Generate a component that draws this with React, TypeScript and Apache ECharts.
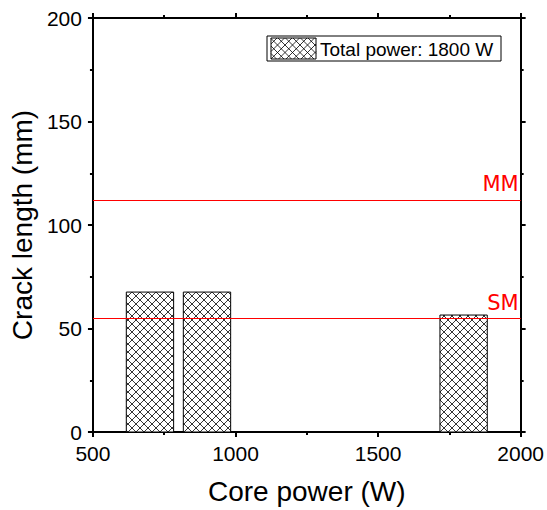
import React, { useEffect, useRef } from "react";
import * as echarts from "echarts";

const corePower = [700, 900, 1800];
const crackLength = [67.6, 67.6, 56.5];
const barWidthW = 166;
const refLines = [
  { name: "MM", value: 112.1 },
  { name: "SM", value: 54.9 },
];
const legendLabel = "Total power: 1800 W";
const xTicks = { min: 500, max: 2000, interval: 500 };
const yTicks = { min: 0, max: 200, interval: 50 };

const FONT = "'Liberation Sans', Arial, sans-serif";

function hatchLines(x0: number, y0: number, x1: number, y1: number, s: number) {
  const segs: number[][] = [];
  for (let c = Math.ceil((y0 - x1) / s) * s; c <= y1 - x0; c += s) {
    const xa = Math.max(x0, y0 - c);
    const xb = Math.min(x1, y1 - c);
    if (xb > xa) segs.push([xa, xa + c, xb, xb + c]);
  }
  for (let c = Math.ceil((x0 + y0) / s) * s; c <= x1 + y1; c += s) {
    const xa = Math.max(x0, c - y1);
    const xb = Math.min(x1, c - y0);
    if (xb > xa) segs.push([xa, c - xa, xb, c - xb]);
  }
  return segs;
}

function hatchElements(x0: number, y0: number, x1: number, y1: number, s: number) {
  const els: any[] = [
    { type: "rect", shape: { x: x0, y: y0, width: x1 - x0, height: y1 - y0 }, style: { fill: "#fff", stroke: "none" } },
  ];
  hatchLines(x0, y0, x1, y1, s).forEach((g) => {
    els.push({
      type: "line",
      shape: { x1: g[0], y1: g[1], x2: g[2], y2: g[3] },
      style: { stroke: "#000", lineWidth: 0.8 },
    });
  });
  els.push({
    type: "rect",
    shape: { x: x0, y: y0, width: x1 - x0, height: y1 - y0 },
    style: { fill: "none", stroke: "#000", lineWidth: 1 },
  });
  return els;
}

export default function App() {
  const ref = useRef<HTMLDivElement>(null);
  useEffect(() => {
    if (!ref.current) return;
    const chart = echarts.init(ref.current, null, { renderer: "svg" });

    const axisCommon = {
      axisLine: { show: true, onZero: false, lineStyle: { color: "#000", width: 2 } },
      axisTick: { show: true, inside: false, length: 5, lineStyle: { color: "#000", width: 2 } },
      minorTick: { show: true, splitNumber: 2, length: 3, lineStyle: { color: "#000", width: 2 } },
      splitLine: { show: false },
      minorSplitLine: { show: false },
    };

    const legendBox = { x: 267, y: 36, w: 234, h: 25 };
    const sw = { x0: 271, y0: 38, x1: 316, y1: 59 };

    chart.setOption({
      animation: false,
      backgroundColor: "#fff",
      textStyle: { fontFamily: FONT },
      grid: { left: 90, right: 26, top: 18, bottom: 78, containLabel: false },
      xAxis: [
        {
          type: "value",
          position: "bottom",
          min: xTicks.min,
          max: xTicks.max,
          interval: xTicks.interval,
          ...axisCommon,
          axisLabel: {
            color: "#000",
            fontSize: 21,
            fontFamily: FONT,
            margin: 11,
            formatter: (v: number) => String(v),
          },
          name: "Core power (W)",
          nameLocation: "middle",
          nameGap: 45,
          nameTextStyle: { color: "#000", fontSize: 28, fontFamily: FONT },
        },
        {
          type: "value",
          position: "top",
          min: xTicks.min,
          max: xTicks.max,
          interval: xTicks.interval,
          ...axisCommon,
          axisLabel: { show: false },
        },
      ],
      yAxis: [
        {
          type: "value",
          position: "left",
          min: yTicks.min,
          max: yTicks.max,
          interval: yTicks.interval,
          ...axisCommon,
          axisLabel: {
            color: "#000",
            fontSize: 21,
            fontFamily: FONT,
            margin: 11,
            formatter: (v: number) => String(v),
          },
          name: "Crack length (mm)",
          nameLocation: "middle",
          nameGap: 54,
          nameTextStyle: { color: "#000", fontSize: 28, fontFamily: FONT },
        },
        {
          type: "value",
          position: "right",
          min: yTicks.min,
          max: yTicks.max,
          interval: yTicks.interval,
          ...axisCommon,
          axisLabel: { show: false },
        },
      ],
      series: [
        {
          type: "custom",
          name: legendLabel,
          xAxisIndex: 0,
          yAxisIndex: 0,
          data: corePower.map((p, i) => [p, crackLength[i]]),
          renderItem: (params: any, api: any) => {
            const x = api.value(0);
            const y = api.value(1);
            const a = api.coord([x - barWidthW / 2, y]);
            const b = api.coord([x + barWidthW / 2, 0]);
            return {
              type: "group",
              children: hatchElements(a[0], a[1], b[0], b[1], 8),
            };
          },
          z: 2,
        },
        {
          type: "line",
          xAxisIndex: 0,
          yAxisIndex: 0,
          data: [],
          z: 3,
          markLine: {
            silent: true,
            symbol: "none",
            lineStyle: { color: "#ff0000", width: 1, type: "solid" },
            label: {
              show: true,
              position: "insideEndTop",
              formatter: "{b}",
              color: "#ff0000",
              fontSize: 21,
              fontFamily: "'DejaVu Sans', Verdana, sans-serif",
              distance: [2, 5],
            },
            data: refLines.map((r) => ({ name: r.name, yAxis: r.value })),
          },
        },
      ],
      graphic: [
        {
          type: "group",
          z: 10,
          children: [
            {
              type: "rect",
              shape: { x: legendBox.x, y: legendBox.y, width: legendBox.w, height: legendBox.h },
              style: { fill: "#fff", stroke: "#000", lineWidth: 1 },
            },
            ...hatchElements(sw.x0, sw.y0, sw.x1, sw.y1, 7.5),
            {
              type: "text",
              x: 320,
              y: legendBox.y + legendBox.h / 2 + 1,
              style: {
                text: legendLabel,
                fontSize: 19,
                fontFamily: FONT,
                fill: "#000",
                verticalAlign: "middle",
                align: "left",
              },
            },
          ],
        },
      ],
    });
    return () => chart.dispose();
  }, []);
  return (
    <div
      ref={ref}
      style={{ position: "absolute", left: 0, top: 0, width: 547, height: 510 }}
    />
  );
}
